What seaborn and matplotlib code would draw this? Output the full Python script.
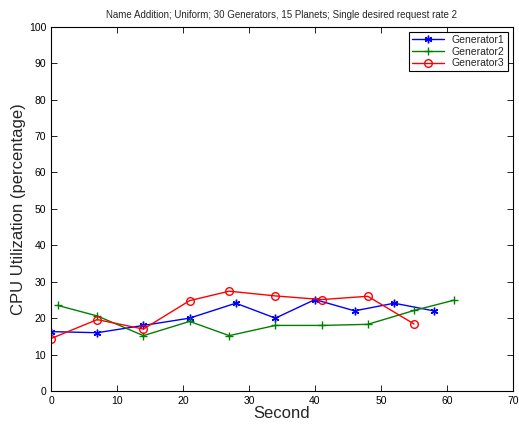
import pandas as pd
import matplotlib
matplotlib.use("Agg")
import matplotlib.pyplot as plt
import seaborn as sns

# values
gen1_x = [0, 7, 14, 21, 28, 34, 40, 46, 52, 58]
gen1_y = [16.3, 16.0, 18.0, 20.0, 24.1, 20.0, 25.1, 22.0, 24.1, 22.0]
gen2_x = [1, 7, 14, 21, 27, 34, 41, 48, 55, 61]
gen2_y = [23.5, 20.6, 15.2, 19.1, 15.2, 18.0, 18.0, 18.3, 22.1, 24.9]
gen3_x = [0, 7, 14, 21, 27, 34, 41, 48, 55]
gen3_y = [14.4, 19.6, 17.0, 24.8, 27.4, 26.1, 25.1, 26.0, 18.4]

series = [
    ("Generator1", gen1_x, gen1_y, "#0000ff", (6, 2, 0)),
    ("Generator2", gen2_x, gen2_y, "#008000", "+"),
    ("Generator3", gen3_x, gen3_y, "#ff0000", "o"),
]

sns.set_style("ticks")
plt.rcParams["font.family"] = ["Liberation Sans", "DejaVu Sans"]
plt.rcParams["xtick.direction"] = "in"
plt.rcParams["ytick.direction"] = "in"

fig = plt.figure(figsize=(5.19, 4.25), dpi=100)
ax = fig.add_axes([0.0983, 0.08, 0.8901, 0.8572])

for name, xs, ys, col, mk in series:
    d = pd.DataFrame({"sec": xs, "cpu": ys})
    sns.lineplot(data=d, x="sec", y="cpu", ax=ax, color=col, marker=mk, label=name,
                 linewidth=1, markersize=5.5, markerfacecolor="none",
                 markeredgecolor=col, markeredgewidth=1, sort=False)

ax.set_xlim(0, 70)
ax.set_ylim(0, 100)
ax.set_xticks(range(0, 71, 10))
ax.set_yticks(range(0, 101, 10))
ax.tick_params(labelsize=7.5, top=True, right=True, length=4, width=0.6, colors="black")
for s in ax.spines.values():
    s.set_linewidth(0.8)
    s.set_color("black")
ax.set_title("Name Addition; Uniform; 30 Generators, 15 Planets; Single desired request rate 2",
             fontsize=7, pad=6)
ax.set_xlabel("Second", fontsize=12, labelpad=0)
ax.set_ylabel("CPU Utilization (percentage)", fontsize=12, labelpad=2)
leg = ax.legend(loc="upper right", fontsize=7.5, fancybox=False, edgecolor="black",
                framealpha=1, borderaxespad=0.5, handlelength=3, labelspacing=0.15,
                borderpad=0.3)
leg.get_frame().set_linewidth(0.8)

fig.savefig("out.png", dpi=100)
